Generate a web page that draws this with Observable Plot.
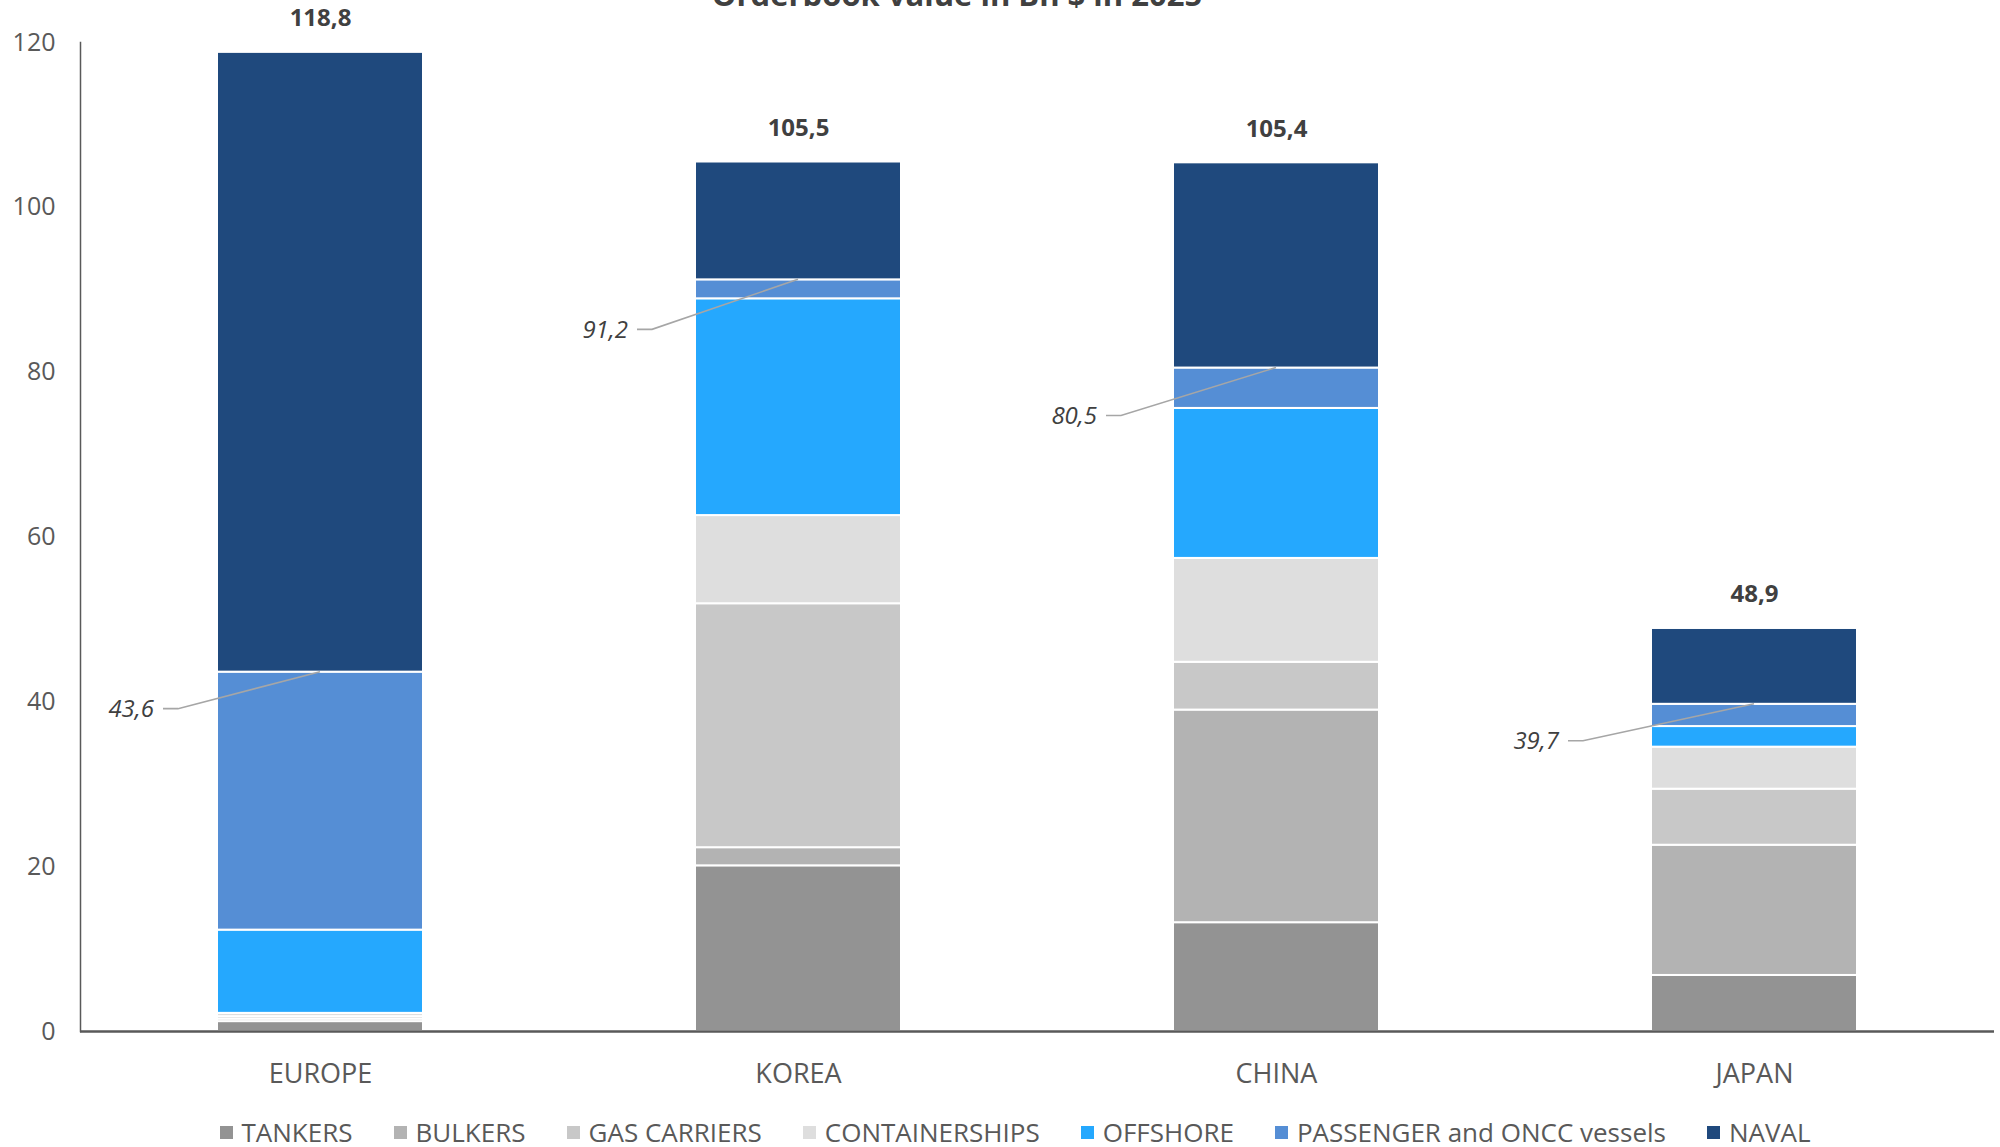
<!DOCTYPE html>
<html>
<head>
<meta charset="utf-8">
<script src="https://cdn.jsdelivr.net/npm/d3@7"></script>
<script src="https://cdn.jsdelivr.net/npm/@observablehq/plot@0.6"></script>
<style>
  html, body { margin: 0; padding: 0; background: #fff; overflow: hidden; }
  body { font-family: "Open Sans", sans-serif; }
  #wrap { position: relative; width: 2000px; height: 1147px; }
  #title { position: absolute; top: -21px; left: -43px; width: 2000px; text-align: center;
           font-size: 31px; line-height: 31px; font-weight: bold; color: #404040; }
  #chart { position: absolute; top: 0; left: 0; }
  #legend { position: absolute; top: 1117px; left: 0; width: 2030px; display: flex; justify-content: center;
            font-size: 26px; line-height: 30px; color: #595959; }
  .item { display: flex; align-items: center; margin: 0 20.5px; }
  .sw { width: 13px; height: 13px; margin-right: 9px; }
</style>
</head>
<body>
<div id="wrap">
  <div id="chart"></div>
  <div id="title"></div>
  <div id="legend"></div>
</div>
<script>
// ---- data ----
const titleText = "Orderbook value in Bn $ in 2025";
const categories = ["EUROPE", "KOREA", "CHINA", "JAPAN"];
const seriesNames = ["TANKERS", "BULKERS", "GAS CARRIERS", "CONTAINERSHIPS", "OFFSHORE", "PASSENGER and ONCC vessels", "NAVAL"];
const tankers        = [1.2, 20.1, 13.2, 6.8];
const bulkers        = [0.3, 2.2, 25.8, 15.8];
const gasCarriers    = [0.3, 29.6, 5.8, 6.8];
const containerships = [0.4, 10.7, 12.6, 5.1];
const offshore       = [10.1, 26.3, 18.2, 2.5];
const passenger      = [31.3, 2.3, 4.9, 2.7];
const naval          = [75.2, 14.3, 24.9, 9.2];
const totals         = [118.8, 105.5, 105.4, 48.9];
const subtotals      = [43.6, 91.2, 80.5, 39.7];
const yTicks         = [0, 20, 40, 60, 80, 100, 120];

// ---- styling ----
const colors = ["#939393", "#b3b3b3", "#c8c8c8", "#dedede", "#25a8fe", "#558ed5", "#1f497d"];
// leader-line placement (pixels) for the italic sub-total labels
const leaderStart = {EUROPE: [-157, 37], KOREA: [-161, 50], CHINA: [-170, 48], JAPAN: [-186, 37]};

const seriesValues = [tankers, bulkers, gasCarriers, containerships, offshore, passenger, naval];
const rows = [];
categories.forEach((c, i) => {
  seriesNames.forEach((s, j) => rows.push({cat: c, type: s, value: seriesValues[j][i]}));
});
const totalRows = categories.map((c, i) => ({cat: c, total: totals[i]}));
const fmt = v => v.toFixed(1).replace(".", ",");

const chart = Plot.plot({
  width: 2000,
  height: 1100,
  marginLeft: 80,
  marginRight: 6,
  marginTop: 42,
  marginBottom: 69,
  style: {fontFamily: "'Open Sans', sans-serif", fontSize: "25px", color: "#595959", background: "white", overflow: "visible"},
  x: {domain: categories, paddingInner: 0.57, paddingOuter: 0.285, label: null},
  y: {domain: [0, 120], label: null},
  color: {domain: seriesNames, range: colors},
  marks: [
    Plot.barY(rows, {x: "cat", y: "value", fill: "type", stroke: "white", strokeWidth: 2}),
    Plot.ruleY([0], {stroke: "#595959", strokeWidth: 2.5}),
    Plot.frame({anchor: "left", stroke: "#595959", strokeWidth: 1.5}),
    Plot.axisY({ticks: yTicks, tickSize: 0, tickPadding: 25, tickFormat: d => String(d), label: null}),
    Plot.axisX({tickSize: 0, tickPadding: 32, fontSize: 27, label: null}),
    Plot.text(totalRows, {x: "cat", y: "total", text: d => fmt(d.total), dy: -34, lineAnchor: "middle",
      fontWeight: "bold", fontSize: 24, fill: "#404040"})
  ]
});
document.getElementById("chart").appendChild(chart);

// leader lines + italic subtotal labels, positioned with the chart's own scales
const xs = chart.scale("x"), ys = chart.scale("y");
const svg = d3.select(chart);
const g = svg.append("g");
categories.forEach((c, i) => {
  const cx = xs.apply(c) + xs.bandwidth / 2;
  const cy = ys.apply(subtotals[i]);
  const [sdx, sdy] = leaderStart[c];
  g.append("path")
    .attr("d", `M${cx},${cy}L${cx + sdx + 15},${cy + sdy}L${cx + sdx},${cy + sdy}`)
    .attr("fill", "none").attr("stroke", "#a6a6a6").attr("stroke-width", 1.6);
  g.append("text")
    .attr("x", cx + sdx - 9).attr("y", cy + sdy)
    .attr("text-anchor", "end").attr("dy", "0.35em")
    .attr("font-style", "italic").attr("font-size", 24).attr("fill", "#404040")
    .text(fmt(subtotals[i]));
});

document.getElementById("title").textContent = titleText;
const legend = document.getElementById("legend");
seriesNames.forEach((s, j) => {
  const it = document.createElement("div"); it.className = "item";
  const sw = document.createElement("div"); sw.className = "sw"; sw.style.background = colors[j];
  const tx = document.createElement("span"); tx.textContent = s;
  it.appendChild(sw); it.appendChild(tx); legend.appendChild(it);
});
</script>
</body>
</html>
